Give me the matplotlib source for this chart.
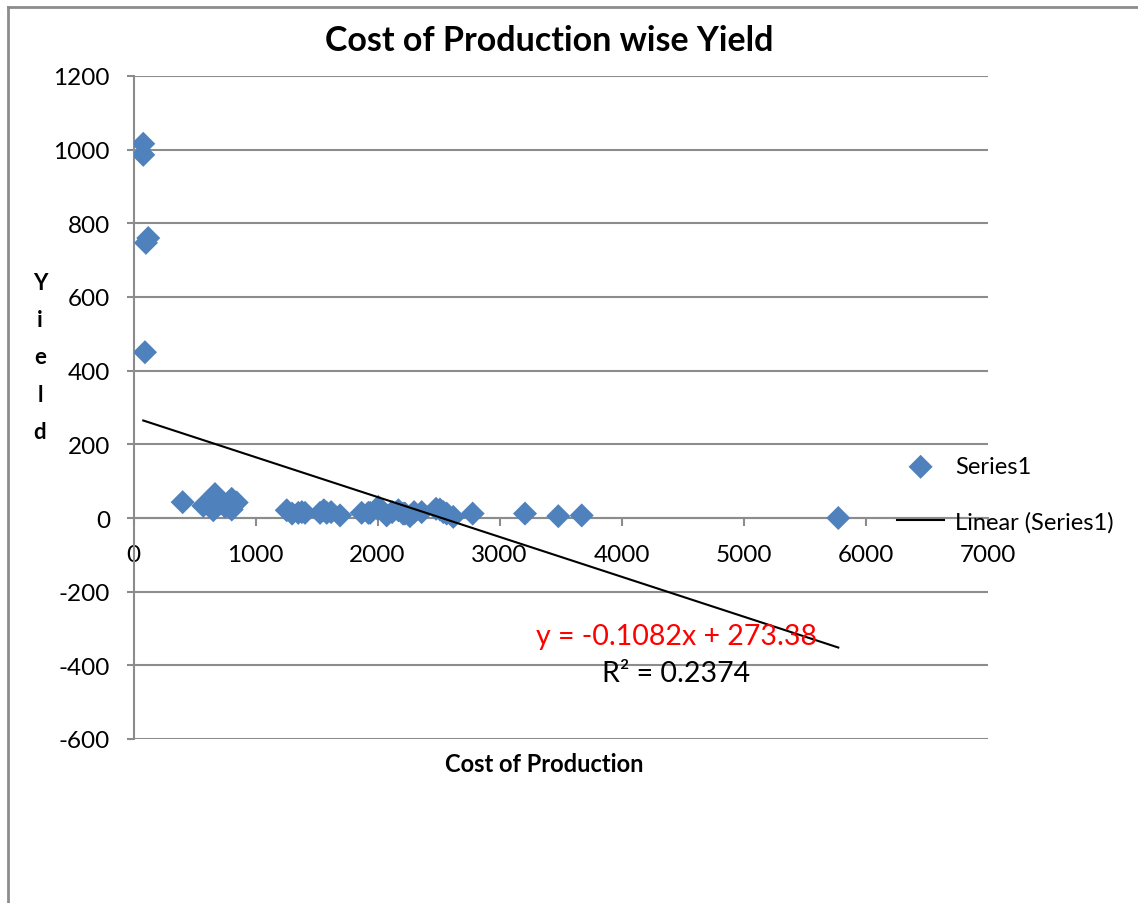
import matplotlib.pyplot as plt
from matplotlib.lines import Line2D

# cost of production vs yield
cost = [80, 80, 121, 102, 94,
        403, 572, 668, 654, 709, 805, 846, 805, 750, 640,
        1256, 1351, 1406, 1529, 1584, 1693, 1870, 1925, 2007, 2075,
        2171, 2225, 2266, 2362, 2512, 2567, 2621, 2780,
        1300, 1380, 1560, 1620, 1940, 2000, 2120, 2210, 2300, 2480, 2540,
        3209, 3482, 3674, 5777]
yld = [1016, 986, 760, 747, 450,
       43, 33, 65, 21, 39, 52, 42, 23, 31, 28,
       21, 14, 14, 14, 14, 7, 14, 14, 30, 7,
       21, 12, 5, 16, 23, 12, 3, 12,
       12, 16, 21, 16, 14, 25, 16, 12, 16, 25, 16,
       12, 5, 7, 0]

slope, intercept, r2 = -0.1082, 273.38, 0.2374

W, H = 1138, 904
plt.rcParams['font.family'] = ['Lato', 'DejaVu Sans']
plt.rcParams['axes.unicode_minus'] = False
fig = plt.figure(figsize=(W / 100, H / 100), dpi=100)
ax = fig.add_axes([133.5 / W, 1 - 740 / H, 854 / W, 663 / H])

blue = '#4F81BD'
grid = '#8C8C8C'

ax.scatter(cost, yld, marker='D', s=150, color=blue, edgecolors='none', zorder=3,
           label='Series1')
xfit = [min(cost), max(cost)]
yfit = [slope * v + intercept for v in xfit]
ax.plot(xfit, yfit, color='black', lw=1.5, zorder=4, label='Linear (Series1)')

ax.set_xlim(0, 7000)
ax.set_ylim(-600, 1200)
ax.set_xticks(range(0, 7001, 1000))
ax.set_yticks(range(-600, 1201, 200))
ax.yaxis.grid(True, color=grid, lw=1.5)
ax.set_axisbelow(True)

for s in ['top', 'right']:
    ax.spines[s].set_visible(False)
ax.spines['bottom'].set_position(('data', 0))
ax.spines['bottom'].set_color(grid)
ax.spines['left'].set_color(grid)
ax.spines['bottom'].set_linewidth(1.5)
ax.spines['left'].set_linewidth(1.5)
ax.tick_params(axis='x', direction='out', length=6, width=1.5, color=grid,
               labelsize=17.5, pad=13)
ax.tick_params(axis='y', direction='out', length=5, width=1.5, color=grid,
               labelsize=17.5, pad=12)

fig.text(549 / W, 1 - 41 / H, 'Cost of Production wise Yield', ha='center',
         va='center', fontsize=24.5, fontweight='bold')
fig.text(544 / W, 1 - 765 / H, 'Cost of Production', ha='center', va='center',
         fontsize=17, fontweight='bold')
fig.text(40 / W, 1 - 358 / H, '\n'.join('Yield'), ha='center', va='center',
         fontsize=16, fontweight='bold', linespacing=1.95)

fig.text(676 / W, 1 - 637 / H, f'y = {slope}x + {intercept}', color='red',
         ha='center', va='center', fontsize=20.5)
fig.text(676 / W, 1 - 674 / H, f'R\u00b2 = {r2}', color='black',
         ha='center', va='center', fontsize=20.5)

ax.legend(loc='upper left', bbox_to_anchor=(897 / W, 1 - 457 / H),
          bbox_transform=fig.transFigure, frameon=False, fontsize=17,
          handlelength=2.0, handletextpad=0.45, labelspacing=1.45,
          borderpad=0, borderaxespad=0, scatterpoints=1)

# outer chart border
fig.add_artist(Line2D([7.5 / W, 7.5 / W], [0, 1 - 8 / H], color=grid, lw=2))
fig.add_artist(Line2D([7.5 / W, 1], [1 - 8 / H, 1 - 8 / H], color=grid, lw=2))

fig.savefig('out.png', dpi=100)
